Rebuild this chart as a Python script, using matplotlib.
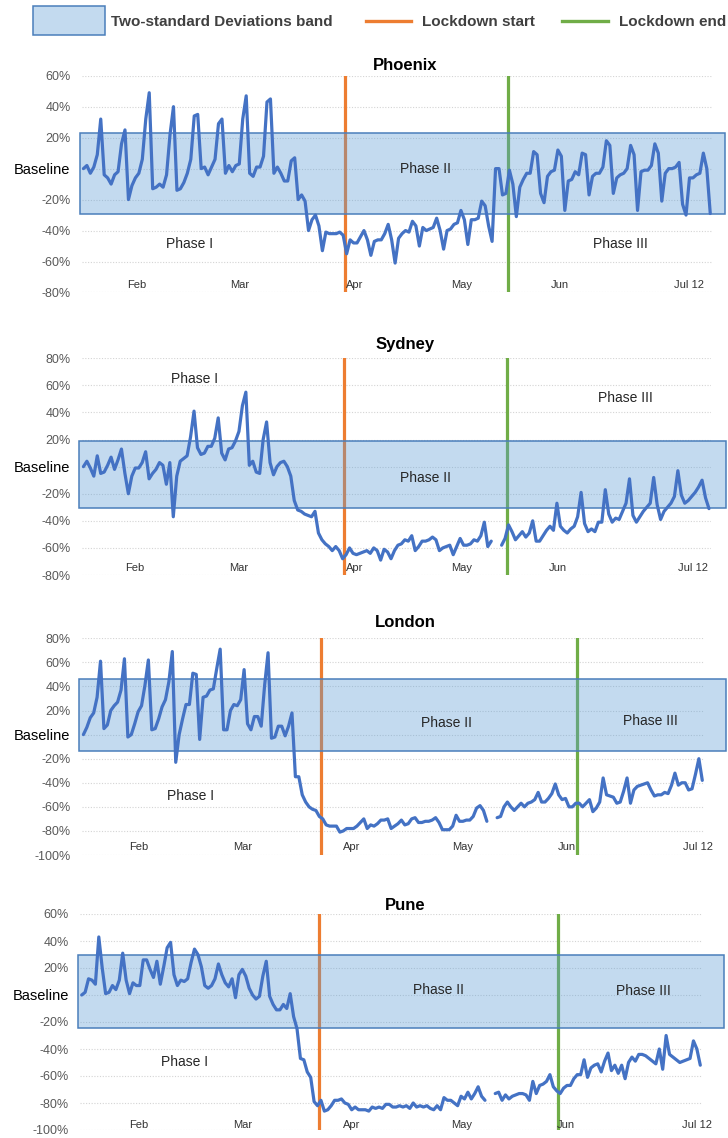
import numpy as np
import pandas as pd
import matplotlib
matplotlib.use("Agg")
import matplotlib.pyplot as plt
import matplotlib.transforms as mtransforms
from matplotlib.patches import Rectangle
from matplotlib.lines import Line2D

plt.rcParams["font.family"] = ["Liberation Sans", "DejaVu Sans"]

nan = np.nan

# Daily mobility change relative to baseline (%), 13 Jan - 12 Jul 2020
start_date = "2020-01-13"
end_date = "2020-07-12"

phoenix = [
    0, 2, -3, 1, 9, 32, -4, -6, -10, -4,
    -2, 16, 25, -20, -11, -6, -3, 6, 32, 49,
    -13, -12, -10, -12, -4, 22, 40, -14, -13, -9,
    -3, 6, 34, 35, 0, 1, -4, 1, 6, 29,
    32, -3, 2, -2, 2, 3, 32, 47, -3, -5,
    1, 1, 8, 43, 45, -3, 1, -3, -8, -8,
    5, 7, -20, -17, -21, -40, -33, -30, -37, -53,
    -41, -42, -42, -42, -41, -43, -55, -46, -48, -48,
    -44, -40, -46, -56, -47, -46, -46, -42, -36, -46,
    -61, -45, -42, -40, -41, -34, -37, -50, -38, -40,
    -39, -38, -32, -40, -52, -40, -39, -36, -35, -27,
    -33, -49, -33, -33, -32, -21, -24, -37, -47, 0,
    0, -17, -16, -1, -10, -31, -12, -7, -3, -3,
    11, 9, -16, -22, -5, -2, -1, 12, 8, -27,
    -8, -7, -2, -4, 10, 9, -17, -5, -3, -3,
    1, 18, 15, -16, -6, -4, -3, 0, 15, 9,
    -27, -2, -1, -1, 2, 16, 10, -21, -3, 0,
    0, 1, 4, -23, -30, -6, -6, -4, -3, 10,
    0, -29,
]

sydney = [
    0, 4, -1, -7, 8, -5, -4, 1, 7, -2,
    5, 13, -5, -20, -7, -1, -1, 3, 11, -9,
    -5, -2, 3, 1, -13, 3, -37, -7, 4, 6,
    8, 22, 41, 14, 9, 10, 15, 15, 21, 36,
    10, 5, 13, 14, 19, 26, 45, 55, 1, 4,
    -4, -5, 20, 33, 3, -6, 0, 3, 4, 0,
    -7, -25, -32, -33, -35, -36, -37, -33, -49, -54,
    -57, -59, -62, -59, -62, -68, -65, -60, -64, -65,
    -64, -63, -62, -64, -60, -62, -69, -61, -63, -68,
    -62, -58, -57, -54, -55, -51, -62, -59, -55, -55,
    -54, -52, -54, -62, -60, -59, -58, -65, -59, -53,
    -58, -58, -57, -54, -55, -51, -41, -59, -55, nan,
    nan, -58, -53, -43, -48, -54, -51, -48, -52, -49,
    -40, -55, -55, -51, -47, -44, -47, -27, -44, -47,
    -49, -46, -44, -37, -19, -42, -48, -46, -48, -41,
    -41, -17, -35, -41, -38, -39, -33, -27, -9, -36,
    -41, -37, -33, -30, -27, -8, -28, -39, -33, -30,
    -27, -22, -3, -21, -27, -25, -22, -19, -15, -10,
    -23, -31,
]

london = [
    0, 6, 14, 18, 31, 61, 5, 8, 20, 24,
    27, 37, 63, -2, 0, 9, 19, 24, 41, 62,
    4, 5, 13, 23, 29, 44, 69, -23, 0, 13,
    25, 25, 51, 50, -4, 31, 32, 37, 38, 55,
    71, 4, 4, 20, 25, 24, 29, 54, 9, 4,
    15, 15, 7, 41, 68, -3, -2, 7, 7, -1,
    7, 18, -35, -35, -50, -56, -60, -62, -63, -68,
    -70, -75, -76, -76, -76, -81, -80, -78, -78, -78,
    -76, -73, -70, -78, -75, -76, -74, -71, -71, -70,
    -78, -76, -74, -71, -75, -74, -70, -69, -73, -73,
    -72, -72, -71, -69, -73, -79, -79, -79, -76, -67,
    -72, -72, -71, -71, -68, -61, -59, -63, -72, nan,
    nan, -69, -68, -60, -56, -60, -63, -60, -57, -60,
    -57, -56, -54, -48, -56, -56, -53, -49, -41, -50,
    -54, -53, -60, -60, -57, -57, -60, -57, -54, -64,
    -61, -56, -36, -50, -51, -52, -57, -56, -47, -36,
    -57, -46, -43, -42, -41, -40, -46, -51, -50, -50,
    -48, -49, -42, -32, -42, -40, -40, -46, -45, -33,
    -20, -38,
]

pune = [
    0, 2, 12, 11, 8, 43, 20, 1, 2, 7,
    4, 11, 31, 11, 1, 9, 7, 7, 26, 26,
    19, 13, 25, 8, 21, 35, 39, 15, 7, 11,
    10, 12, 24, 34, 30, 21, 7, 5, 7, 12,
    23, 15, 9, 6, 12, -2, 15, 19, 14, 5,
    0, -3, -1, 14, 25, -1, -7, -11, -11, -7,
    -10, 1, -16, -25, -47, -48, -57, -61, -79, -82,
    -78, -86, -85, -82, -78, -78, -77, -80, -81, -85,
    -83, -85, -85, -85, -86, -83, -84, -83, -84, -81,
    -81, -83, -83, -82, -83, -82, -84, -80, -83, -82,
    -83, -82, -84, -85, -82, -85, -76, -78, -78, -80,
    -82, -75, -77, -72, -77, -73, -68, -75, -78, nan,
    nan, -73, -72, -78, -74, -77, -75, -74, -73, -73,
    -74, -78, -64, -73, -67, -66, -64, -59, -68, -71,
    -73, -69, -67, -67, -62, -59, -59, -48, -61, -54,
    -52, -51, -57, -49, -43, -56, -52, -58, -52, -62,
    -50, -46, -49, -44, -44, -45, -47, -49, -51, -40,
    -55, -30, -44, -46, -48, -50, -49, -48, -47, -34,
    -40, -52,
]

cities = ["Phoenix", "Sydney", "London", "Pune"]
series = {"Phoenix": phoenix, "Sydney": sydney, "London": london, "Pune": pune}

# Two-standard-deviation band around the baseline (%)
band_low = {"Phoenix": -29.5, "Sydney": -30.8, "London": -13.6, "Pune": -24.7}
band_high = {"Phoenix": 23.2, "Sydney": 19.0, "London": 46.2, "Pune": 29.6}

lockdown_start = {"Phoenix": "2020-03-29", "Sydney": "2020-03-29",
                  "London": "2020-03-23", "Pune": "2020-03-23"}
lockdown_end = {"Phoenix": "2020-05-15", "Sydney": "2020-05-15",
                "London": "2020-06-06", "Pune": "2020-06-01"}

y_ticks = {
    "Phoenix": [60, 40, 20, 0, -20, -40, -60, -80],
    "Sydney": [80, 60, 40, 20, 0, -20, -40, -60, -80],
    "London": [80, 60, 40, 20, 0, -20, -40, -60, -80, -100],
    "Pune": [60, 40, 20, 0, -20, -40, -60, -80, -100],
}
month_labels = ["Feb", "Mar", "Apr", "May", "Jun", "Jul 12"]
phase_labels = ["Phase I", "Phase II", "Phase III"]

# ---- layout (pixel geometry of the figure) ----
W, H = 728, 1138
layout = {
    # left, right, top, bottom of plotting area in px
    "Phoenix": dict(box=(81.7, 712, 75.7, 292.5), title_y=65,
                    band_x=(80, 725), month_y=0.035,
                    month_x=[15.5, 45.2, 78.3, 109.2, 137.5, 175.0],
                    phase_xy=[(30.7, -48.6), (98.7, 0), (155, -49)]),
    "Sydney": dict(box=(81.7, 710.7, 358.3, 575), title_y=345,
                   band_x=(79.3, 725.7), month_y=0.034,
                   month_x=[14.9, 45.0, 78.4, 109.5, 137.4, 176.5],
                   phase_xy=[(32.1, 65), (99, -8.3), (156.9, 51)]),
    "London": dict(box=(81.7, 704, 638.3, 855), title_y=622.7,
                   band_x=(79.3, 725.7), month_y=0.036,
                   month_x=[16.3, 46.6, 78.5, 110.8, 141.3, 179.8],
                   phase_xy=[(31.2, -50.7), (106.3, 9.4), (165.7, 11.3)]),
    "Pune": dict(box=(80, 702, 914, 1130), title_y=905,
                 band_x=(77.7, 724), month_y=0.023,
                 month_x=[16.8, 47.1, 79.0, 111.3, 141.6, 180.0],
                 phase_xy=[(30, -50), (104.5, 3.7), (164.3, 3)]),
}

LINE_BLUE = "#4472C4"
BAND_FILL = "#5B9BD5"
BAND_EDGE = "#4A7EBB"
ORANGE = "#ED7D31"
GREEN = "#70AD47"

dates = pd.date_range(start_date, end_date, freq="D")
t0 = dates[0]
days = np.arange(len(dates))


def day_pos(date_str):
    # vertical markers sit on the boundary before the given day
    return (pd.Timestamp(date_str) - t0).days - 0.5


fig = plt.figure(figsize=(W / 100, H / 100), dpi=100)
fig.patch.set_facecolor("white")

for city in cities:
    lay = layout[city]
    L, R, T, B = lay["box"]
    ax = fig.add_axes([L / W, 1 - B / H, (R - L) / W, (B - T) / H])
    ticks = y_ticks[city]
    ax.set_xlim(-0.5, len(days) - 0.5)
    ax.set_ylim(min(ticks), max(ticks))
    for s in ax.spines.values():
        s.set_visible(False)
    ax.set_xticks([])
    ax.set_yticks(ticks)
    ax.set_yticklabels(["Baseline" if v == 0 else f"{v}%" for v in ticks])
    ax.tick_params(axis="y", length=0, pad=8, labelsize=9, labelcolor="#595959")
    for lbl, v in zip(ax.get_yticklabels(), ticks):
        if v == 0:
            lbl.set_color("black")
            lbl.set_fontsize(10.5)
    ax.yaxis.grid(True, linestyle=(0, (1, 1.5)), color="#d4d4d4", lw=0.8)
    ax.set_axisbelow(True)

    # lockdown markers
    ax.axvline(day_pos(lockdown_start[city]), color=ORANGE, lw=2.3, zorder=1.5)
    ax.axvline(day_pos(lockdown_end[city]), color=GREEN, lw=2.3, zorder=1.5)

    # two-standard-deviation band, extending past the plot's right edge
    trans = mtransforms.blended_transform_factory(ax.transAxes, ax.transData)
    bx0 = (lay["band_x"][0] - L) / (R - L)
    bx1 = (lay["band_x"][1] - L) / (R - L)
    lo, hi = band_low[city], band_high[city]
    ax.add_patch(Rectangle((bx0, lo), bx1 - bx0, hi - lo, transform=trans,
                           facecolor=BAND_FILL, alpha=0.36, edgecolor="none",
                           clip_on=False, zorder=2))
    ax.add_patch(Rectangle((bx0, lo), bx1 - bx0, hi - lo, transform=trans,
                           fill=False, edgecolor=BAND_EDGE, lw=1.1,
                           clip_on=False, zorder=2.5))

    # mobility series
    ax.plot(days, np.array(series[city], dtype=float), color=LINE_BLUE,
            lw=2.3, solid_joinstyle="round", solid_capstyle="round",
            zorder=3, clip_on=False)

    # month labels along the bottom
    mtrans = mtransforms.blended_transform_factory(ax.transData, ax.transAxes)
    for mx, m in zip(lay["month_x"], month_labels):
        ax.text(mx, lay["month_y"], m, transform=mtrans, ha="center",
                va="center", fontsize=8, color="#333333", zorder=4)

    # phase annotations
    for (px, py), ph in zip(lay["phase_xy"], phase_labels):
        ax.text(px, py, ph, ha="center", va="center", fontsize=10,
                color="#262626", zorder=4)

    fig.text(405 / W, 1 - lay["title_y"] / H, city, ha="center", va="center",
             fontsize=12, fontweight="bold", color="black")

# ---- legend across the top ----
def fx(x):
    return x / W


def fy(y):
    return 1 - y / H


fig.patches.append(Rectangle((fx(33.3), fy(35)), (105 - 33.3) / W, 29 / H,
                             transform=fig.transFigure, facecolor=BAND_FILL,
                             alpha=0.36, edgecolor="none"))
fig.patches.append(Rectangle((fx(33.3), fy(35)), (105 - 33.3) / W, 29 / H,
                             transform=fig.transFigure, fill=False,
                             edgecolor=BAND_EDGE, lw=1.1))
fig.text(fx(111), fy(22), "Two-standard Deviations band", ha="left",
         va="center", fontsize=11, fontweight="bold", color="#404040")
fig.lines.append(Line2D([fx(365.7), fx(410.7)], [fy(21), fy(21)],
                        transform=fig.transFigure, color=ORANGE, lw=2.4))
fig.text(fx(422), fy(22), "Lockdown start", ha="left", va="center",
         fontsize=11, fontweight="bold", color="#404040")
fig.lines.append(Line2D([fx(562.3), fx(608.3)], [fy(21), fy(21)],
                        transform=fig.transFigure, color=GREEN, lw=2.4))
fig.text(fx(619), fy(22), "Lockdown end", ha="left", va="center",
         fontsize=11, fontweight="bold", color="#404040")

fig.savefig("out.png", dpi=100, facecolor="white")
